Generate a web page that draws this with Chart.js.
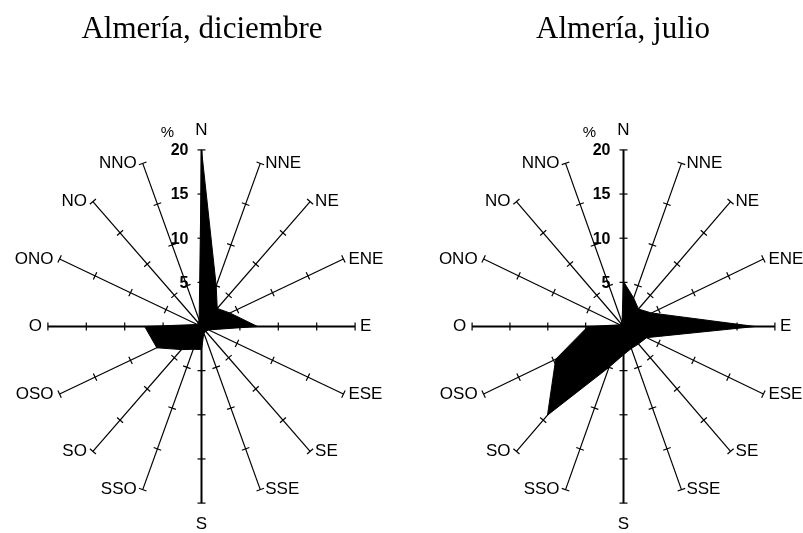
<!DOCTYPE html>
<html>
<head>
<meta charset="utf-8">
<script src="https://cdn.jsdelivr.net/npm/chart.js@4/dist/chart.umd.min.js"></script>
<style>
  body { margin: 0; width: 803px; height: 533px; background: #fff; position: relative; overflow: hidden; }
  .title { position: absolute; top: 12px; width: 600px; text-align: center; font: 31px/1 "Liberation Serif", "Times New Roman", serif; color: #000; white-space: nowrap; }
  canvas { position: absolute; top: 0; }
</style>
</head>
<body>
<canvas id="roseDic" width="400" height="533" style="left:0"></canvas>
<canvas id="roseJul" width="403" height="533" style="left:400px"></canvas>
<div class="title" style="left:-98px">Almería, diciembre</div>
<div class="title" style="left:323px">Almería, julio</div>
<script>
// wind directions, clockwise from north
const directions = ['N', 'NNE', 'NE', 'ENE', 'E', 'ESE', 'SE', 'SSE', 'S', 'SSO', 'SO', 'OSO', 'O', 'ONO', 'NO', 'NNO'];
// frequency (%) per direction
const diciembre = [20, 5, 2.9, 4, 7.3, 1, 0.8, 0.8, 2.6, 2.8, 3.7, 6.3, 7.4, 0.6, 0.6, 0.8];
const julio = [5.1, 3.5, 2.8, 4, 17.4, 3.3, 2.8, 2.7, 3.2, 5, 14.2, 9.7, 4.7, 0.5, 0.5, 0.5];
// scale ticks along each spoke
const ticks = [5, 10, 15, 20];
const maxValue = 20;

// polygon points (x east, y north) from the direction values
function rosePoints(values) {
  const pts = values.map((v, i) => {
    const a = i * Math.PI / 8;
    return { x: v * Math.sin(a), y: v * Math.cos(a) };
  });
  pts.push(pts[0]);
  return pts;
}

// spokes, tick marks and labels drawn with the chart's own scales
const roseAxes = {
  id: 'roseAxes',
  beforeDatasetsDraw(chart) {
    const { ctx, scales: { x, y } } = chart;
    const x0 = x.getPixelForValue(0), y0 = y.getPixelForValue(0);
    ctx.save();
    ctx.strokeStyle = '#000';
    ctx.fillStyle = '#000';
    directions.forEach((name, i) => {
      const a = i * Math.PI / 8;
      const ux = Math.sin(a), uy = Math.cos(a);
      const x1 = x.getPixelForValue(maxValue * ux), y1 = y.getPixelForValue(maxValue * uy);
      ctx.lineWidth = i % 4 === 0 ? 2 : 1.2;
      ctx.beginPath();
      ctx.moveTo(x0, y0);
      ctx.lineTo(x1, y1);
      ctx.stroke();

      const len = Math.hypot(x1 - x0, y1 - y0);
      const px = -(y1 - y0) / len, py = (x1 - x0) / len;
      ctx.lineWidth = 1.2;
      ticks.forEach(t => {
        const tx = x.getPixelForValue(t * ux), ty = y.getPixelForValue(t * uy);
        ctx.beginPath();
        ctx.moveTo(tx - px * 4, ty - py * 4);
        ctx.lineTo(tx + px * 4, ty + py * 4);
        ctx.stroke();
      });

      ctx.font = '17px "Liberation Sans", Arial, sans-serif';
      ctx.textBaseline = 'middle';
      if (i === 0) {
        ctx.textAlign = 'center';
        ctx.fillText(name, x1, y1 - 20);
      } else if (i === 8) {
        ctx.textAlign = 'center';
        ctx.fillText(name, x1, y1 + 21);
      } else if (ux > 0) {
        ctx.textAlign = 'left';
        ctx.fillText(name, x1 + 5, y1);
      } else {
        ctx.textAlign = 'right';
        ctx.fillText(name, x1 - 6, y1);
      }
    });
    ctx.restore();
  },
  afterDatasetsDraw(chart) {
    const { ctx, scales: { x, y } } = chart;
    const x0 = x.getPixelForValue(0);
    ctx.save();
    ctx.fillStyle = '#000';
    ctx.textBaseline = 'middle';
    ctx.textAlign = 'right';
    ctx.font = 'bold 16px "Liberation Sans", Arial, sans-serif';
    ticks.forEach(t => {
      ctx.fillText(String(t), x0 - 13, y.getPixelForValue(t) + 1);
    });
    ctx.textAlign = 'center';
    ctx.font = '15px "Liberation Sans", Arial, sans-serif';
    ctx.fillText('%', x0 - 34, y.getPixelForValue(maxValue) - 17);
    ctx.restore();
  }
};

function makeRose(id, values, cx, cy, sx, sy) {
  const canvas = document.getElementById(id);
  const w = canvas.width, h = canvas.height;
  return new Chart(canvas, {
    type: 'scatter',
    data: {
      datasets: [{
        data: rosePoints(values),
        showLine: true,
        fill: 'shape',
        backgroundColor: '#000',
        borderColor: '#000',
        borderWidth: 1,
        pointRadius: 0,
        tension: 0
      }]
    },
    options: {
      responsive: false,
      animation: false,
      devicePixelRatio: 1,
      layout: { padding: 0 },
      scales: {
        x: { type: 'linear', display: false, min: -cx / sx, max: (w - cx) / sx },
        y: { type: 'linear', display: false, min: -(h - cy) / sy, max: cy / sy }
      },
      plugins: { legend: { display: false }, tooltip: { enabled: false } }
    },
    plugins: [roseAxes]
  });
}

makeRose('roseDic', diciembre, 201.5, 326.5, 7.68, 8.83);
makeRose('roseJul', julio, 223.5, 326.5, 7.57, 8.83);
</script>
</body>
</html>
